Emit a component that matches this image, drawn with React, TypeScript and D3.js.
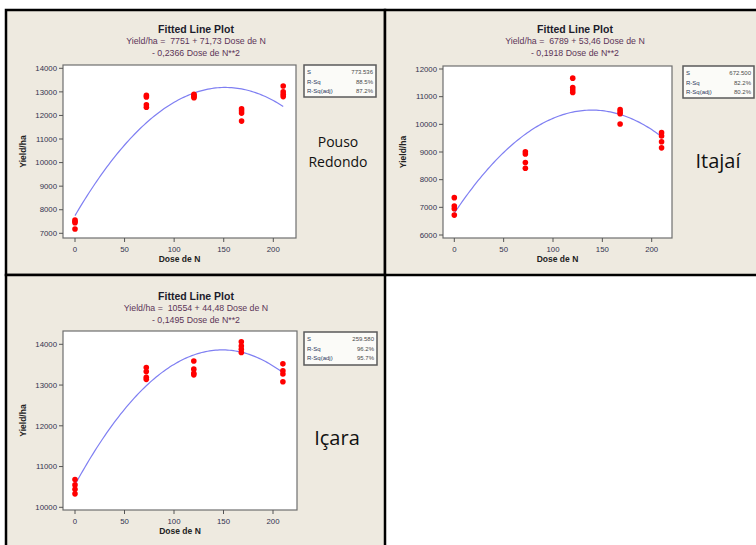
import React from 'react';
import * as d3 from 'd3';

// Nitrogen doses (x) and observed yields per site, one array per dose
const doses = [0, 72, 120, 168, 210];
const xTicks = [0, 50, 100, 150, 200];

const pousoYield = [
  [7560, 7500, 7450, 7180],
  [12850, 12780, 12450, 12350],
  [12900, 12850, 12790, 12750],
  [12280, 12200, 12100, 11760],
  [13250, 13000, 12900, 12800],
];
const itajaiYield = [
  [7350, 7050, 6950, 6720],
  [9010, 8930, 8620, 8410],
  [11670, 11330, 11240, 11150],
  [10530, 10450, 10380, 10010],
  [9700, 9580, 9370, 9150],
];
const icaraYield = [
  [10680, 10550, 10440, 10330],
  [13430, 13330, 13190, 13140],
  [13590, 13390, 13290, 13250],
  [14060, 13960, 13880, 13800],
  [13520, 13350, 13270, 13080],
];

const pousoTicks = [7000, 8000, 9000, 10000, 11000, 12000, 13000, 14000];
const itajaiTicks = [6000, 7000, 8000, 9000, 10000, 11000, 12000];
const icaraTicks = [10000, 11000, 12000, 13000, 14000];

// fitted quadratic: a + b*x + c*x^2 (as printed on each plot)
const pousoCoef = [7751, 71.73, -0.2366];
const itajaiCoef = [6789, 53.46, -0.1918];
const icaraCoef = [10554, 44.48, -0.1495];

const pousoEq = ['Yield/ha =  7751 + 71,73 Dose de N', '- 0,2366 Dose de N**2'];
const itajaiEq = ['Yield/ha =  6789 + 53,46 Dose de N', '- 0,1918 Dose de N**2'];
const icaraEq = ['Yield/ha =  10554 + 44,48 Dose de N', '- 0,1495 Dose de N**2'];

const statLabels = ['S', 'R-Sq', 'R-Sq(adj)'];
const pousoStats = ['773.536', '88.5%', '87.2%'];
const itajaiStats = ['672.500', '82.2%', '80.2%'];
const icaraStats = ['259.580', '96.2%', '95.7%'];

const BG = '#eeeae0';
const FONT = '"Liberation Sans", Arial, sans-serif';
const TICK_COL = '#33334f';

function Panel(props: any) {
  const { box, frame, xPx, yPx, yTicks, coef, yields, eq, stats, titleX, titleY, site, siteX, siteY, siteSize, legend } = props;
  const x = d3.scaleLinear().domain([0, 200]).range(xPx);
  const y = d3.scaleLinear().domain([yTicks[0], yTicks[yTicks.length - 1]]).range(yPx);
  const fit = (d: number) => coef[0] + coef[1] * d + coef[2] * d * d;
  const curveX = d3.range(doses[0], doses[doses.length - 1] + 0.1, 2);
  const line = d3.line<number>().x(d => x(d)).y(d => y(fit(d)));
  const fMidX = (frame.l + frame.r) / 2;
  const fMidY = (frame.t + frame.b) / 2;

  return (
    <g fontFamily={FONT}>
      <rect x={box.x} y={box.y} width={box.w} height={box.h} fill={BG} stroke="#000" strokeWidth={2.5} />
      <text x={titleX} y={titleY} textAnchor="middle" fontSize={10.5} fontWeight="bold" fill="#1c1c2c">Fitted Line Plot</text>
      <text x={titleX} y={titleY + 11} textAnchor="middle" fontSize={8.8} fill="#5c3558" style={{ whiteSpace: 'pre' }}>{eq[0]}</text>
      <text x={titleX} y={titleY + 22.5} textAnchor="middle" fontSize={8.8} fill="#5c3558">{eq[1]}</text>

      <rect x={frame.l} y={frame.t} width={frame.r - frame.l} height={frame.b - frame.t} fill="#fff" stroke="#6e6e6e" strokeWidth={1.2} />

      {yTicks.map((t: number) => (
        <g key={'y' + t}>
          <line x1={frame.l - 4} x2={frame.l} y1={y(t)} y2={y(t)} stroke="#555" />
          <text x={frame.l - 6} y={y(t)} dy="0.35em" textAnchor="end" fontSize={7.8} fill={TICK_COL}>{t}</text>
        </g>
      ))}
      {xTicks.map(t => (
        <g key={'x' + t}>
          <line x1={x(t)} x2={x(t)} y1={frame.b} y2={frame.b + 4} stroke="#555" />
          <text x={x(t)} y={frame.b + 14} textAnchor="middle" fontSize={7.8} fill={TICK_COL}>{t}</text>
        </g>
      ))}
      <text x={fMidX} y={frame.b + 24} textAnchor="middle" fontSize={8.5} fontWeight="bold" fill="#222">Dose de N</text>
      <text transform={`translate(${frame.l - 37},${fMidY}) rotate(-90)`} textAnchor="middle" fontSize={8.5} fontWeight="bold" fill="#222">Yield/ha</text>

      <path d={line(curveX) || ''} fill="none" stroke="#7f7ff2" strokeWidth={1.2} />
      {yields.map((vals: number[], i: number) =>
        vals.map((v, j) => <circle key={i + '-' + j} cx={x(doses[i])} cy={y(v)} r={2.8} fill="#ff0000" />)
      )}

      <rect x={legend.x} y={legend.y} width={legend.w} height={legend.h} fill="#fbfbf8" stroke="#5a5a5a" strokeWidth={1.5} />
      {statLabels.map((s, i) => (
        <g key={s}>
          <text x={legend.x + 3} y={legend.y + 9 + i * 9.7} fontSize={6} fill="#2a3a5a">{s}</text>
          <text x={legend.x + legend.w - 3} y={legend.y + 9 + i * 9.7} textAnchor="end" fontSize={6} fill="#4a4a4a">{stats[i]}</text>
        </g>
      ))}

      {site.map((s: string, i: number) => (
        <text key={s} x={siteX} y={siteY + i * 20} textAnchor="middle" fontSize={siteSize} fontFamily='"Open Sans", sans-serif' fill="#111">{s}</text>
      ))}
    </g>
  );
}

export default function App() {
  return (
    <svg width={756} height={545} style={{ position: 'absolute', left: 0, top: 0, background: '#fff' }}>
      <Panel
        box={{ x: 6, y: 10, w: 379, h: 265 }}
        frame={{ l: 63, r: 296, t: 65, b: 238 }}
        xPx={[75, 273.3]} yPx={[233.3, 68.3]} yTicks={pousoTicks}
        coef={pousoCoef} yields={pousoYield} eq={pousoEq} stats={pousoStats}
        titleX={196} titleY={33}
        site={['Pouso', 'Redondo']} siteX={338} siteY={147} siteSize={14}
        legend={{ x: 304, y: 65, w: 72, h: 32 }}
      />
      <Panel
        box={{ x: 385, y: 10, w: 380, h: 265 }}
        frame={{ l: 443, r: 672, t: 66, b: 238 }}
        xPx={[454.3, 651.7]} yPx={[235, 69]} yTicks={itajaiTicks}
        coef={itajaiCoef} yields={itajaiYield} eq={itajaiEq} stats={itajaiStats}
        titleX={575} titleY={33}
        site={['Itajaí']} siteX={718} siteY={168} siteSize={20}
        legend={{ x: 683, y: 66, w: 71, h: 32 }}
      />
      <Panel
        box={{ x: 6, y: 275, w: 379, h: 280 }}
        frame={{ l: 63, r: 297, t: 331, b: 510 }}
        xPx={[75, 273]} yPx={[507.3, 344.3]} yTicks={icaraTicks}
        coef={icaraCoef} yields={icaraYield} eq={icaraEq} stats={icaraStats}
        titleX={196} titleY={300}
        site={['Içara']} siteX={337} siteY={445} siteSize={20}
        legend={{ x: 304, y: 332, w: 73, h: 33 }}
      />
    </svg>
  );
}
